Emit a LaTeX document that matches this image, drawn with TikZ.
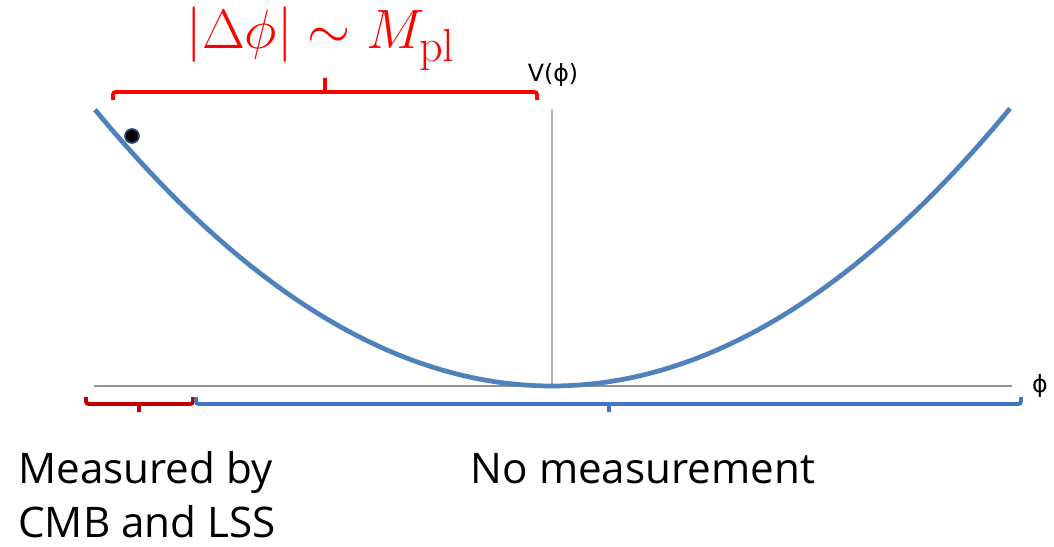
\documentclass[tikz,border=0pt]{standalone}
\usepackage{fontspec}
\newfontfamily\labelfont{Open Sans}
\newfontfamily\symfont{DejaVu Sans}
\definecolor{curveblue}{RGB}{79,129,189}
\definecolor{rangeblue}{RGB}{68,114,196}
\definecolor{rangered}{RGB}{192,0,0}
\tikzset{
  axis/.style={draw=gray!85,line width=.8pt},
  curve/.style={draw=curveblue,line width=2.7pt},
  brace/.style={line width=2.2pt,rounded corners=1.5pt},
  lbl/.style={inner sep=0pt,font=\labelfont\fontsize{24}{30.6}\selectfont}
}
\begin{document}
\begin{tikzpicture}[x=0.02cm,y=-0.02cm]
\useasboundingbox (0,0) rectangle (1054,547);
% axes
\coordinate (O) at (552,386);
\draw[axis] (94,386)--(1012,386);
\draw[axis,draw=gray!60] (O)--(552,109);
\node[inner sep=0pt,font=\symfont\fontsize{13.5}{15}\selectfont,anchor=base] (V) at (553,82) {V(ϕ)};
\node[inner sep=0pt,font=\symfont\fontsize{13.5}{15}\selectfont] (phi) at (1040,386) {ϕ};
% potential
\draw[curve] plot[domain=95:1010,samples=120] (\x,{386-13.23*((\x-552)/100)^2});
\node[circle,fill=black,draw=curveblue!60!black,line width=1pt,inner sep=0pt,minimum size=14pt*0.567] (ball) at (132,136) {};
% field range
\draw[brace,red] (113,100)--(113,92)--(537,92)--(537,100) (325,92)--(325,78);
\node[red,inner sep=0pt,font=\fontsize{24.88}{30}\selectfont] (dphi) at (321,39) {\scalebox{1.27}{$|\Delta\phi|\sim M_{\mathrm{pl}}$}};
% observed and unobserved parts
\draw[brace,rangered] (86,397)--(86,404)--(193,404)--(193,397) (139,404)--(139,412);
\draw[brace,rangeblue] (196,397)--(196,404)--(1021,404)--(1021,397) (609,404)--(609,412);
\node[lbl,align=left,anchor=base west] (meas) at (18,537) {Measured by\\CMB and LSS};
\node[lbl,anchor=base] (nomeas) at (643,483) {No measurement};
\end{tikzpicture}
\end{document}
